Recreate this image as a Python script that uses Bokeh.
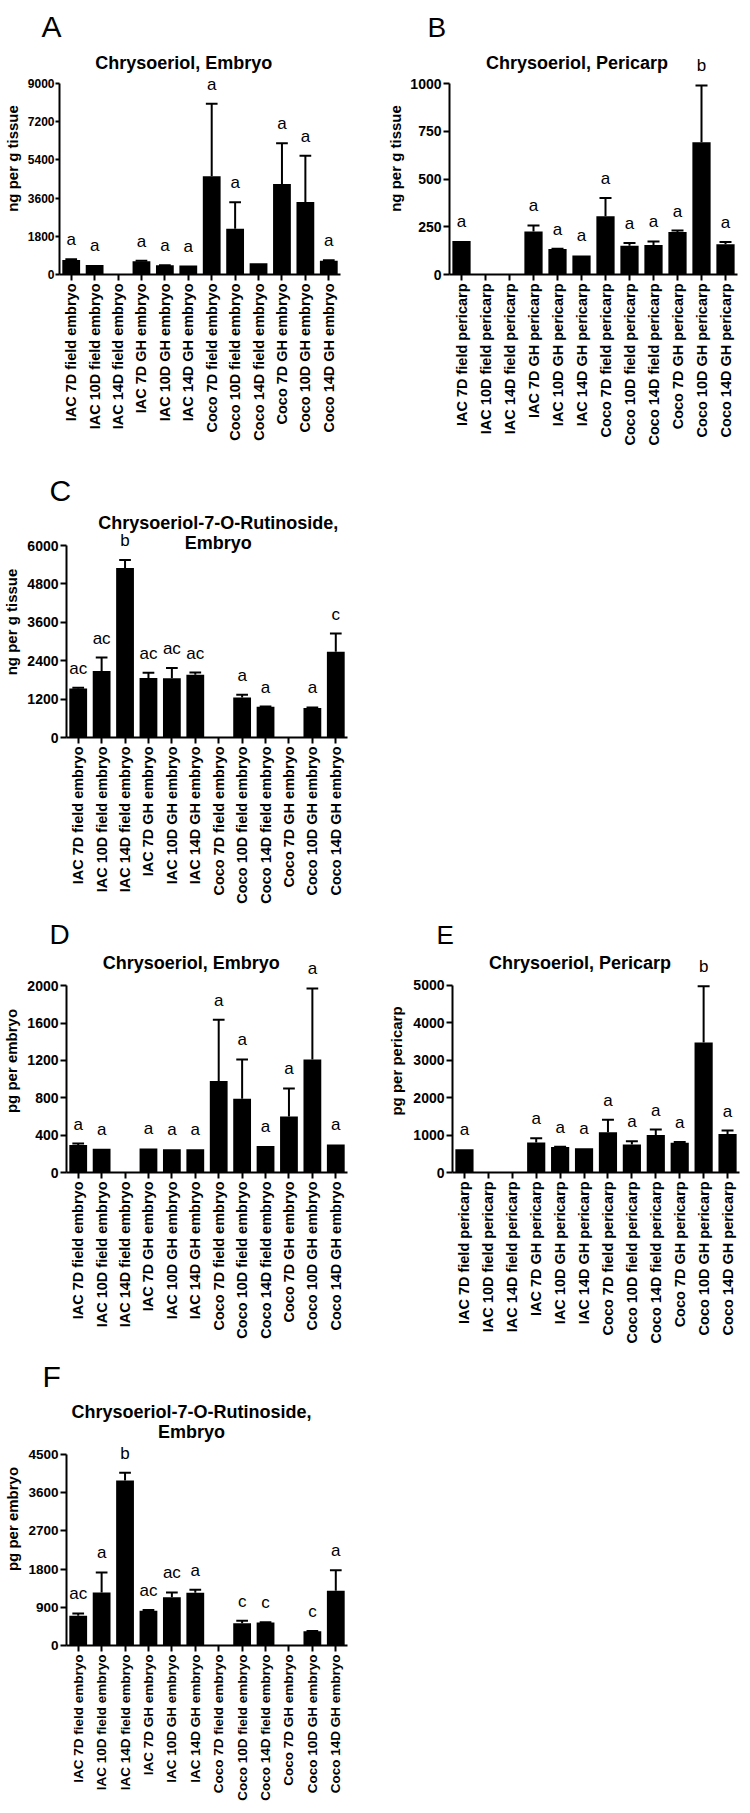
import math
from bokeh.plotting import figure
from bokeh.models import Range1d, FixedTicker, ColumnDataSource, LabelSet, Label
from bokeh.layouts import column, row
from bokeh.embed import file_html
from bokeh.resources import INLINE
from bokeh.core.properties import value

FONT = "Liberation Sans"

embryo_labels = ["IAC 7D field embryo", "IAC 10D field embryo", "IAC 14D field embryo",
                 "IAC 7D GH embryo", "IAC 10D GH embryo", "IAC 14D GH embryo",
                 "Coco 7D field embryo", "Coco 10D field embryo", "Coco 14D field embryo",
                 "Coco 7D GH embryo", "Coco 10D GH embryo", "Coco 14D GH embryo"]
pericarp_labels = ["IAC 7D field pericarp", "IAC 10D field pericarp", "IAC 14D field pericarp",
                   "IAC 7D GH pericarp", "IAC 10D GH pericarp", "IAC 14D GH pericarp",
                   "Coco 7D field pericarp", "Coco 10D field pericarp", "Coco 14D field pericarp",
                   "Coco 7D GH pericarp", "Coco 10D GH pericarp", "Coco 14D GH pericarp"]

# A: Chrysoeriol, Embryo (ng per g tissue)
A_mean = [680, 450, 0, 620, 430, 420, 4630, 2150, 530, 4270, 3420, 650]
A_err = [40, 0, 0, 30, 10, 0, 3410, 1250, 0, 1920, 2180, 20]
A_sig = ["a", "a", "", "a", "a", "a", "a", "a", "", "a", "a", "a"]
A_ticks = [0, 1800, 3600, 5400, 7200, 9000]

# B: Chrysoeriol, Pericarp (ng per g tissue)
B_mean = [175, 0, 0, 225, 133, 100, 305, 150, 155, 222, 692, 158]
B_err = [0, 0, 0, 32, 2, 0, 95, 15, 18, 8, 298, 12]
B_sig = ["a", "", "", "a", "a", "a", "a", "a", "a", "a", "b", "a"]
B_ticks = [0, 250, 500, 750, 1000]

# C: Chrysoeriol-7-O-Rutinoside, Embryo (ng per g tissue)
C_mean = [1530, 2080, 5300, 1860, 1850, 1960, 0, 1250, 960, 0, 920, 2680]
C_err = [25, 420, 250, 160, 320, 70, 0, 85, 5, 0, 20, 570]
C_sig = ["ac", "ac", "b", "ac", "ac", "ac", "", "a", "a", "", "a", "c"]
C_ticks = [0, 1200, 2400, 3600, 4800, 6000]

# D: Chrysoeriol, Embryo (pg per embryo)
D_mean = [295, 255, 0, 258, 250, 250, 980, 790, 285, 600, 1210, 300]
D_err = [15, 0, 0, 0, 0, 0, 655, 420, 0, 300, 760, 0]
D_sig = ["a", "a", "", "a", "a", "a", "a", "a", "a", "a", "a", "a"]
D_ticks = [0, 400, 800, 1200, 1600, 2000]

# E: Chrysoeriol, Pericarp (pg per pericarp)
E_mean = [620, 0, 0, 800, 680, 645, 1075, 750, 1000, 795, 3465, 1030]
E_err = [0, 0, 0, 115, 5, 0, 330, 85, 145, 20, 1500, 90]
E_sig = ["a", "", "", "a", "a", "a", "a", "a", "a", "a", "b", "a"]
E_ticks = [0, 1000, 2000, 3000, 4000, 5000]

# F: Chrysoeriol-7-O-Rutinoside, Embryo (pg per embryo)
F_mean = [700, 1250, 3890, 820, 1135, 1245, 0, 525, 540, 0, 337, 1290]
F_err = [55, 470, 180, 15, 115, 70, 0, 60, 5, 0, 5, 485]
F_sig = ["ac", "a", "b", "ac", "ac", "a", "", "c", "c", "", "c", "a"]
F_ticks = [0, 900, 1800, 2700, 3600, 4500]

# layout in page pixels: figure box, plot area top, axis frame (left, top-tick, right, zero)
panels = {
    "A": dict(letter="A", title=["Chrysoeriol, Embryo"], ylabel="ng per g tissue",
              mean=A_mean, err=A_err, sig=A_sig, ticks=A_ticks, labels=embryo_labels,
              fig=(8, 0, 367, 466), top=42, frame=(61, 83, 348, 274),
              letter_pos=(43, 30), title_pos=(188, [62]),
              ytick_font="12px", xtick_font="14.5px", ytick_out=4, ylab_std=1, ylabel_standoff=4),
    "B": dict(letter="B", title=["Chrysoeriol, Pericarp"], ylabel="ng per g tissue",
              mean=B_mean, err=B_err, sig=B_sig, ticks=B_ticks, labels=pericarp_labels,
              fig=(375, 0, 375, 466), top=42, frame=(457, 83, 745, 274),
              letter_pos=(435, 28), title_pos=(584.5, [62]),
              ytick_font="14px", xtick_font="14.5px", ytick_out=6, ylab_std=2, ylabel_standoff=3),
    "C": dict(letter="C", title=["Chrysoeriol-7-O-Rutinoside,", "Embryo"], ylabel="ng per g tissue",
              mean=C_mean, err=C_err, sig=C_sig, ticks=C_ticks, labels=embryo_labels,
              fig=(8, 466, 367, 447), top=506, frame=(68, 545, 355, 737),
              letter_pos=(51, 30), title_pos=(223, [522.7, 542.7]),
              ytick_font="14px", xtick_font="14.5px", ytick_out=6, ylab_std=2, ylabel_standoff=4),
    "D": dict(letter="D", title=["Chrysoeriol, Embryo"], ylabel="pg per embryo",
              mean=D_mean, err=D_err, sig=D_sig, ticks=D_ticks, labels=embryo_labels,
              fig=(8, 913, 367, 436), top=949, frame=(68, 986, 355, 1177),
              letter_pos=(51, 28), title_pos=(195.5, [963]),
              ytick_font="14px", xtick_font="14.5px", ytick_out=6, ylab_std=2, ylabel_standoff=4),
    "E": dict(letter="E", title=["Chrysoeriol, Pericarp"], ylabel="pg per pericarp",
              mean=E_mean, err=E_err, sig=E_sig, ticks=E_ticks, labels=pericarp_labels,
              fig=(375, 913, 375, 436), top=946, frame=(460, 982, 747, 1172),
              letter_pos=(444, 26), title_pos=(587.5, [959.5]),
              ytick_font="14px", xtick_font="14.5px", ytick_out=6, ylab_std=2, ylabel_standoff=5),
    "F": dict(letter="F", title=["Chrysoeriol-7-O-Rutinoside,", "Embryo"], ylabel="pg per embryo",
              mean=F_mean, err=F_err, sig=F_sig, ticks=F_ticks, labels=embryo_labels,
              fig=(8, 1349, 367, 456), top=1392, frame=(72, 1454, 362, 1645),
              letter_pos=(48, 30), title_pos=(201, [1411.7, 1431.7]),
              ytick_font="13.5px", xtick_font="13.5px", ytick_out=6, ylab_std=2, ylabel_standoff=4),
}


def build(s):
    ox, oy, w, h = s["fig"]
    l, t, r, b = s["frame"]
    top = s["top"]
    lx, lsize = s["letter_pos"]
    n = len(s["labels"])
    xs = list(range(n))
    tmax = s["ticks"][-1]
    yend = tmax * (b - top) / (b - t)
    p = figure(width=w, height=h, output_backend="svg", toolbar_location=None,
               x_range=Range1d(-0.5, n - 0.5), y_range=Range1d(0, yend),
               min_border_left=l - ox, min_border_right=ox + w - r,
               min_border_top=top - oy, min_border_bottom=oy + h - b)
    p.outline_line_color = None
    p.background_fill_color = "white"
    p.border_fill_color = "white"
    p.xgrid.visible = False
    p.ygrid.visible = False

    # panel letter as the figure title
    p.title.text = s["letter"]
    p.title.align = "left"
    p.title.offset = lx - l
    p.title.standoff = 0
    p.title.text_font = FONT
    p.title.text_font_size = f"{lsize}px"
    p.title.text_font_style = "normal"
    p.title.text_color = "black"

    p.vbar(x=xs, top=s["mean"], bottom=0, width=0.76, fill_color="black", line_color=None)

    ex = [x for x, e in zip(xs, s["err"]) if e > 0]
    elo = [m for m, e in zip(s["mean"], s["err"]) if e > 0]
    ehi = [m + e for m, e in zip(s["mean"], s["err"]) if e > 0]
    p.segment(x0=ex, y0=elo, x1=ex, y1=ehi, line_color="black", line_width=2)
    p.segment(x0=[x - 0.25 for x in ex], y0=ehi, x1=[x + 0.25 for x in ex], y1=ehi,
              line_color="black", line_width=2)

    src = ColumnDataSource(dict(x=xs, y=[m + e for m, e in zip(s["mean"], s["err"])], t=s["sig"]))
    p.add_layout(LabelSet(x="x", y="y", text="t", source=src, y_offset=14,
                          text_font=value(FONT), text_font_size="17px", text_font_style="normal",
                          text_align="center", text_baseline="alphabetic", text_color="black"))

    # chart title lines, placed through the plot's own scales
    tx, tys = s["title_pos"]
    xd = -0.5 + (tx - l) / (r - l) * n
    for line, ty in zip(s["title"], tys):
        yd = yend * (b - ty) / (b - top)
        p.add_layout(Label(x=xd, y=yd, text=line,
                           text_font=FONT, text_font_size="18px", text_font_style="bold",
                           text_align="center", text_baseline="alphabetic", text_color="black"))

    xa = p.xaxis[0]
    ya = p.yaxis[0]
    for ax in (xa, ya):
        ax.axis_line_width = 2
        ax.axis_line_color = "black"
        ax.major_tick_line_width = 2
        ax.major_tick_line_color = "black"
        ax.minor_tick_line_color = None
        ax.major_tick_in = 0
        ax.major_label_text_font = FONT
        ax.major_label_text_font_style = "bold"
        ax.major_label_text_color = "black"
    xa.ticker = FixedTicker(ticks=xs)
    xa.major_label_overrides = {i: lab for i, lab in enumerate(s["labels"])}
    xa.major_label_orientation = math.pi / 2
    xa.major_tick_out = 6
    xa.major_label_standoff = 3
    xa.major_label_text_font_size = s["xtick_font"]

    ya.ticker = FixedTicker(ticks=s["ticks"])
    ya.bounds = (0, tmax)
    ya.major_tick_out = s["ytick_out"]
    ya.major_label_standoff = s["ylab_std"]
    ya.major_label_text_font_size = s["ytick_font"]
    ya.axis_label = s["ylabel"]
    ya.axis_label_text_font = FONT
    ya.axis_label_text_font_size = "15px"
    ya.axis_label_text_font_style = "bold"
    ya.axis_label_text_color = "black"
    ya.axis_label_standoff = s["ylabel_standoff"]
    return p


figs = {k: build(v) for k, v in panels.items()}
root = column(row(figs["A"], figs["B"]), figs["C"], row(figs["D"], figs["E"]), figs["F"])

open("out.html", "w").write(file_html(root, INLINE))
